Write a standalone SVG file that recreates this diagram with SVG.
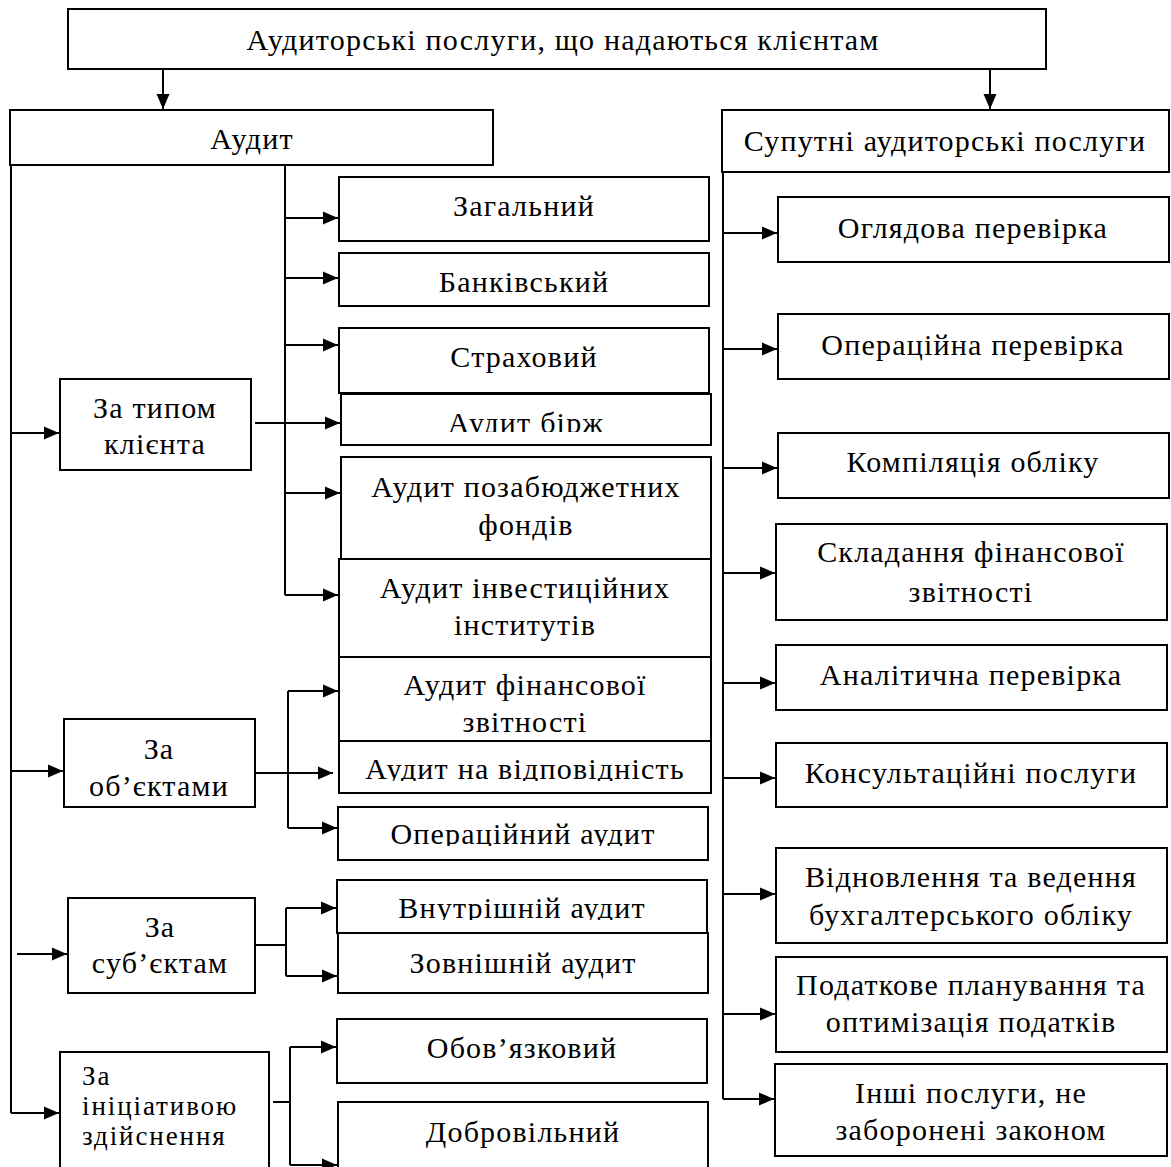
<svg xmlns="http://www.w3.org/2000/svg" width="1171" height="1167" viewBox="0 0 1171 1167">
<style>
.b{fill:#fff;stroke:#000;stroke-width:2}
.t{font-family:"Liberation Serif","Times New Roman",serif;font-size:30px;letter-spacing:1.2px;fill:#000;text-anchor:middle}
.l{text-anchor:start;font-size:27px;letter-spacing:1.9px}
.c{fill:none;stroke:#000;stroke-width:2}
</style>
<defs>
<marker id="ah" markerUnits="userSpaceOnUse" markerWidth="16" markerHeight="14" refX="15" refY="7" orient="auto">
<path d="M0,0.5 L15,7 L0,13.5 z" fill="#000"/>
</marker>
<clipPath id="cl1"><rect x="341" y="394" width="370" height="38"/></clipPath>
<clipPath id="cl2"><rect x="339" y="741" width="372" height="40"/></clipPath>
<clipPath id="cl3"><rect x="338" y="807" width="370" height="39"/></clipPath>
<clipPath id="cl4"><rect x="337" y="880" width="370" height="40"/></clipPath>
</defs>
<rect width="1171" height="1167" fill="#fff"/>

<g id="connectors">
<path class="c" d="M163,69 V109" marker-end="url(#ah)"/>
<path class="c" d="M990,69 V109" marker-end="url(#ah)"/>
<path class="c" d="M11,165 V1113"/>
<path class="c" d="M11,433 H59" marker-end="url(#ah)"/>
<path class="c" d="M11,771 H63" marker-end="url(#ah)"/>
<path class="c" d="M17,954 H67" marker-end="url(#ah)"/>
<path class="c" d="M11,1113 H59" marker-end="url(#ah)"/>
<path class="c" d="M285,165 V595"/>
<path class="c" d="M285,218 H338" marker-end="url(#ah)"/>
<path class="c" d="M285,278 H338" marker-end="url(#ah)"/>
<path class="c" d="M285,345 H338" marker-end="url(#ah)"/>
<path class="c" d="M255,423 H340" marker-end="url(#ah)"/>
<path class="c" d="M285,493 H340" marker-end="url(#ah)"/>
<path class="c" d="M285,595 H338" marker-end="url(#ah)"/>
<path class="c" d="M288,691 V828"/>
<path class="c" d="M288,691 H338" marker-end="url(#ah)"/>
<path class="c" d="M255,773 H333" marker-end="url(#ah)"/>
<path class="c" d="M288,828 H337" marker-end="url(#ah)"/>
<path class="c" d="M255,945 H286"/>
<path class="c" d="M286,908 V976"/>
<path class="c" d="M286,908 H336" marker-end="url(#ah)"/>
<path class="c" d="M286,976 H337" marker-end="url(#ah)"/>
<path class="c" d="M273,1102 H290"/>
<path class="c" d="M290,1047 V1165"/>
<path class="c" d="M290,1047 H336" marker-end="url(#ah)"/>
<path class="c" d="M290,1165 H337" marker-end="url(#ah)"/>
<path class="c" d="M723,172 V1099"/>
<path class="c" d="M723,233 H777" marker-end="url(#ah)"/>
<path class="c" d="M723,349 H777" marker-end="url(#ah)"/>
<path class="c" d="M723,468 H777" marker-end="url(#ah)"/>
<path class="c" d="M723,573 H775" marker-end="url(#ah)"/>
<path class="c" d="M723,683 H775" marker-end="url(#ah)"/>
<path class="c" d="M723,778 H775" marker-end="url(#ah)"/>
<path class="c" d="M723,894 H775" marker-end="url(#ah)"/>
<path class="c" d="M723,1014 H775" marker-end="url(#ah)"/>
<path class="c" d="M723,1099 H774" marker-end="url(#ah)"/>
</g>

<g id="n-root"><rect class="b" x="68" y="9" width="978" height="60"/><text class="t" x="563" y="50">Аудиторські послуги, що надаються клієнтам</text></g>
<g id="n-audit"><rect class="b" x="10" y="110" width="483" height="55"/><text class="t" x="252" y="149">Аудит</text></g>
<g id="n-sup"><rect class="b" x="722" y="110" width="447" height="62"/><text class="t" x="945" y="151">Супутні аудиторські послуги</text></g>

<g id="n-typ"><rect class="b" x="60" y="379" width="191" height="91"/><text class="t" x="155" y="418">За типом</text><text class="t" x="155" y="454">клієнта</text></g>
<g id="n-obj"><rect class="b" x="64" y="719" width="191" height="88"/><text class="t" x="159" y="759">За</text><text class="t" x="159" y="796">об’єктами</text></g>
<g id="n-sub"><rect class="b" x="68" y="898" width="187" height="95"/><text class="t" x="160" y="937">За</text><text class="t" x="160" y="973">суб’єктам</text></g>
<g id="n-init"><rect class="b" x="60" y="1052" width="209" height="118"/><text class="t l" x="82" y="1085">За</text><text class="t l" x="82" y="1115">ініціативою</text><text class="t l" x="82" y="1145">здійснення</text></g>

<g id="n-zag"><rect class="b" x="339" y="177" width="370" height="64"/><text class="t" x="524" y="216">Загальний</text></g>
<g id="n-bank"><rect class="b" x="339" y="253" width="370" height="53"/><text class="t" x="524" y="292">Банківський</text></g>
<g id="n-str"><rect class="b" x="339" y="328" width="370" height="65"/><text class="t" x="524" y="367">Страховий</text></g>
<g id="n-birzh"><rect class="b" x="341" y="394" width="370" height="51"/><text class="t" x="526" y="433" clip-path="url(#cl1)">Аудит бірж</text></g>
<g id="n-poza"><rect class="b" x="341" y="457" width="370" height="102"/><text class="t" x="526" y="497">Аудит позабюджетних</text><text class="t" x="526" y="535">фондів</text></g>
<g id="n-inv"><rect class="b" x="339" y="559" width="372" height="98"/><text class="t" x="525" y="598">Аудит інвестиційних</text><text class="t" x="525" y="635">інститутів</text></g>
<g id="n-fin"><rect class="b" x="339" y="657" width="372" height="84"/><text class="t" x="525" y="695">Аудит фінансової</text><text class="t" x="525" y="732">звітності</text></g>
<g id="n-vidp"><rect class="b" x="339" y="741" width="372" height="52"/><text class="t" x="525" y="779" clip-path="url(#cl2)">Аудит на відповідність</text></g>
<g id="n-oper"><rect class="b" x="338" y="807" width="370" height="53"/><text class="t" x="523" y="844" clip-path="url(#cl3)">Операційний аудит</text></g>
<g id="n-vnut"><rect class="b" x="337" y="880" width="370" height="53"/><text class="t" x="522" y="918" clip-path="url(#cl4)">Внутрішній аудит</text></g>
<g id="n-zovn"><rect class="b" x="338" y="933" width="370" height="60"/><text class="t" x="523" y="973">Зовнішній аудит</text></g>
<g id="n-oboy"><rect class="b" x="337" y="1019" width="370" height="64"/><text class="t" x="522" y="1058">Обов’язковий</text></g>
<g id="n-dobr"><rect class="b" x="338" y="1102" width="370" height="66"/><text class="t" x="523" y="1142">Добровільний</text></g>

<g id="n-ogl"><rect class="b" x="778" y="197" width="391" height="65"/><text class="t" x="973" y="238">Оглядова перевірка</text></g>
<g id="n-operp"><rect class="b" x="778" y="314" width="391" height="65"/><text class="t" x="973" y="355">Операційна перевірка</text></g>
<g id="n-komp"><rect class="b" x="778" y="433" width="391" height="65"/><text class="t" x="973" y="472">Компіляція обліку</text></g>
<g id="n-skl"><rect class="b" x="776" y="524" width="391" height="96"/><text class="t" x="971" y="562">Складання фінансової</text><text class="t" x="971" y="602">звітності</text></g>
<g id="n-anal"><rect class="b" x="776" y="645" width="391" height="65"/><text class="t" x="971" y="685">Аналітична перевірка</text></g>
<g id="n-kons"><rect class="b" x="776" y="743" width="391" height="64"/><text class="t" x="971" y="783">Консультаційні послуги</text></g>
<g id="n-vidn"><rect class="b" x="776" y="848" width="391" height="95"/><text class="t" x="971" y="887">Відновлення та ведення</text><text class="t" x="971" y="925">бухгалтерського обліку</text></g>
<g id="n-pod"><rect class="b" x="776" y="957" width="391" height="95"/><text class="t" x="971" y="995">Податкове планування та</text><text class="t" x="971" y="1032">оптимізація податків</text></g>
<g id="n-insh"><rect class="b" x="775" y="1064" width="392" height="92"/><text class="t" x="971" y="1103">Інші послуги, не</text><text class="t" x="971" y="1140">заборонені законом</text></g>
</svg>
